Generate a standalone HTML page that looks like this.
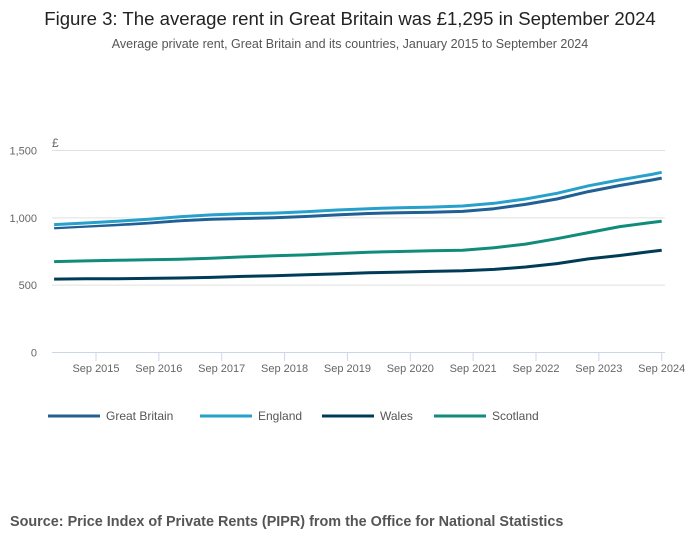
<!DOCTYPE html>
<html><head><meta charset="utf-8"><style>
body{margin:0;background:#fff;width:700px;height:549px;overflow:hidden;font-family:"Liberation Sans",sans-serif;}
</style></head><body>
<svg width="700" height="549" id="c" font-family="Liberation Sans, sans-serif">
<text x="350" y="25" text-anchor="middle" font-size="18.6" fill="#222">Figure 3: The average rent in Great Britain was £1,295 in September 2024</text>
<text x="350" y="48" text-anchor="middle" font-size="12.5" fill="#555">Average private rent, Great Britain and its countries, January 2015 to September 2024</text>
<text x="52" y="147" font-size="12" fill="#666">£</text>
<g id="grid"></g><g id="xax"></g><g id="lines"></g><g id="legend"></g>
<text x="10" y="526" font-size="14.4" font-weight="bold" fill="#555">Source: Price Index of Private Rents (PIPR) from the Office for National Statistics</text>
</svg>
<script>
const months=[0,6,12,18,24,30,36,42,48,54,60,66,72,78,84,90,96,102,108,114,116];
const gb=[925,937,948,962,978,990,995,1000,1010,1022,1032,1038,1042,1048,1068,1100,1140,1195,1240,1280,1295];
const england=[950,962,975,990,1008,1022,1030,1035,1045,1058,1068,1075,1080,1088,1108,1140,1182,1238,1282,1322,1338];
const wales=[545,547,548,550,553,558,565,570,577,584,592,597,602,607,617,635,660,695,720,750,760];
const scotland=[675,680,685,688,692,700,710,718,725,735,745,750,755,760,778,805,845,890,935,965,975];
const yTicks=[0,500,1000,1500];
const xLabels=["Sep 2015","Sep 2016","Sep 2017","Sep 2018","Sep 2019","Sep 2020","Sep 2021","Sep 2022","Sep 2023","Sep 2024"];
const NS="http://www.w3.org/2000/svg";
const X=m=>54.1+m*5.238, Y=v=>352.5-v*202/1500;
function mk(t,a,p){const e=document.createElementNS(NS,t);for(const k in a)e.setAttribute(k,a[k]);p.appendChild(e);return e;}
const grid=document.getElementById('grid');
yTicks.forEach(v=>{
 if(v>0){const l=mk('line',{x1:52,x2:665,y1:Y(v),y2:Y(v),stroke:'#e0e0e0','stroke-width':1},grid);
 
 }
 const t=mk('text',{x:37,y:Y(v)+4,'text-anchor':'end','font-size':11,fill:'#666'},grid);t.textContent=v.toLocaleString('en-GB');
 
 
});
const xa=document.getElementById('xax');
const ax=mk('line',{x1:52,x2:665,y1:352.5,y2:352.5,stroke:'#ccd6eb'},xa);


xLabels.forEach((s,i)=>{const x=X(8+12*i);
 mk('line',{x1:x,x2:x,y1:352.5,y2:361,stroke:'#ccd6eb'},xa);
 const t=mk('text',{x:x,y:372,'text-anchor':'middle','font-size':11,fill:'#666'},xa);t.textContent=s;
 
 
});
const series=[["Great Britain",gb,"#206095"],["England",england,"#27a0cc"],["Wales",wales,"#003c57"],["Scotland",scotland,"#118c7b"]];
const lg=document.getElementById('lines');
series.forEach(([n,d,c])=>{
 const p=d.map((v,i)=>(i?'L':'M')+X(months[i]).toFixed(1)+','+Y(v).toFixed(1)).join('');
 mk('path',{d:p,fill:'none',stroke:'#fff','stroke-width':5,'stroke-linejoin':'round'},lg);
 const e=mk('path',{d:p,fill:'none',stroke:c,'stroke-width':3,'stroke-linejoin':'round'},lg);
 
 
});
const leg=document.getElementById('legend');
const lx=[48,200,322,434];
series.forEach(([n,d,c],i)=>{
 const g=mk('g',{},leg);
 
 
 mk('line',{x1:lx[i],x2:lx[i]+52,y1:416,y2:416,stroke:c,'stroke-width':3},g);
 const t=mk('text',{x:lx[i]+58,y:420,'font-size':12,fill:'#555'},g);t.textContent=n;
});
</script>
</body></html>
